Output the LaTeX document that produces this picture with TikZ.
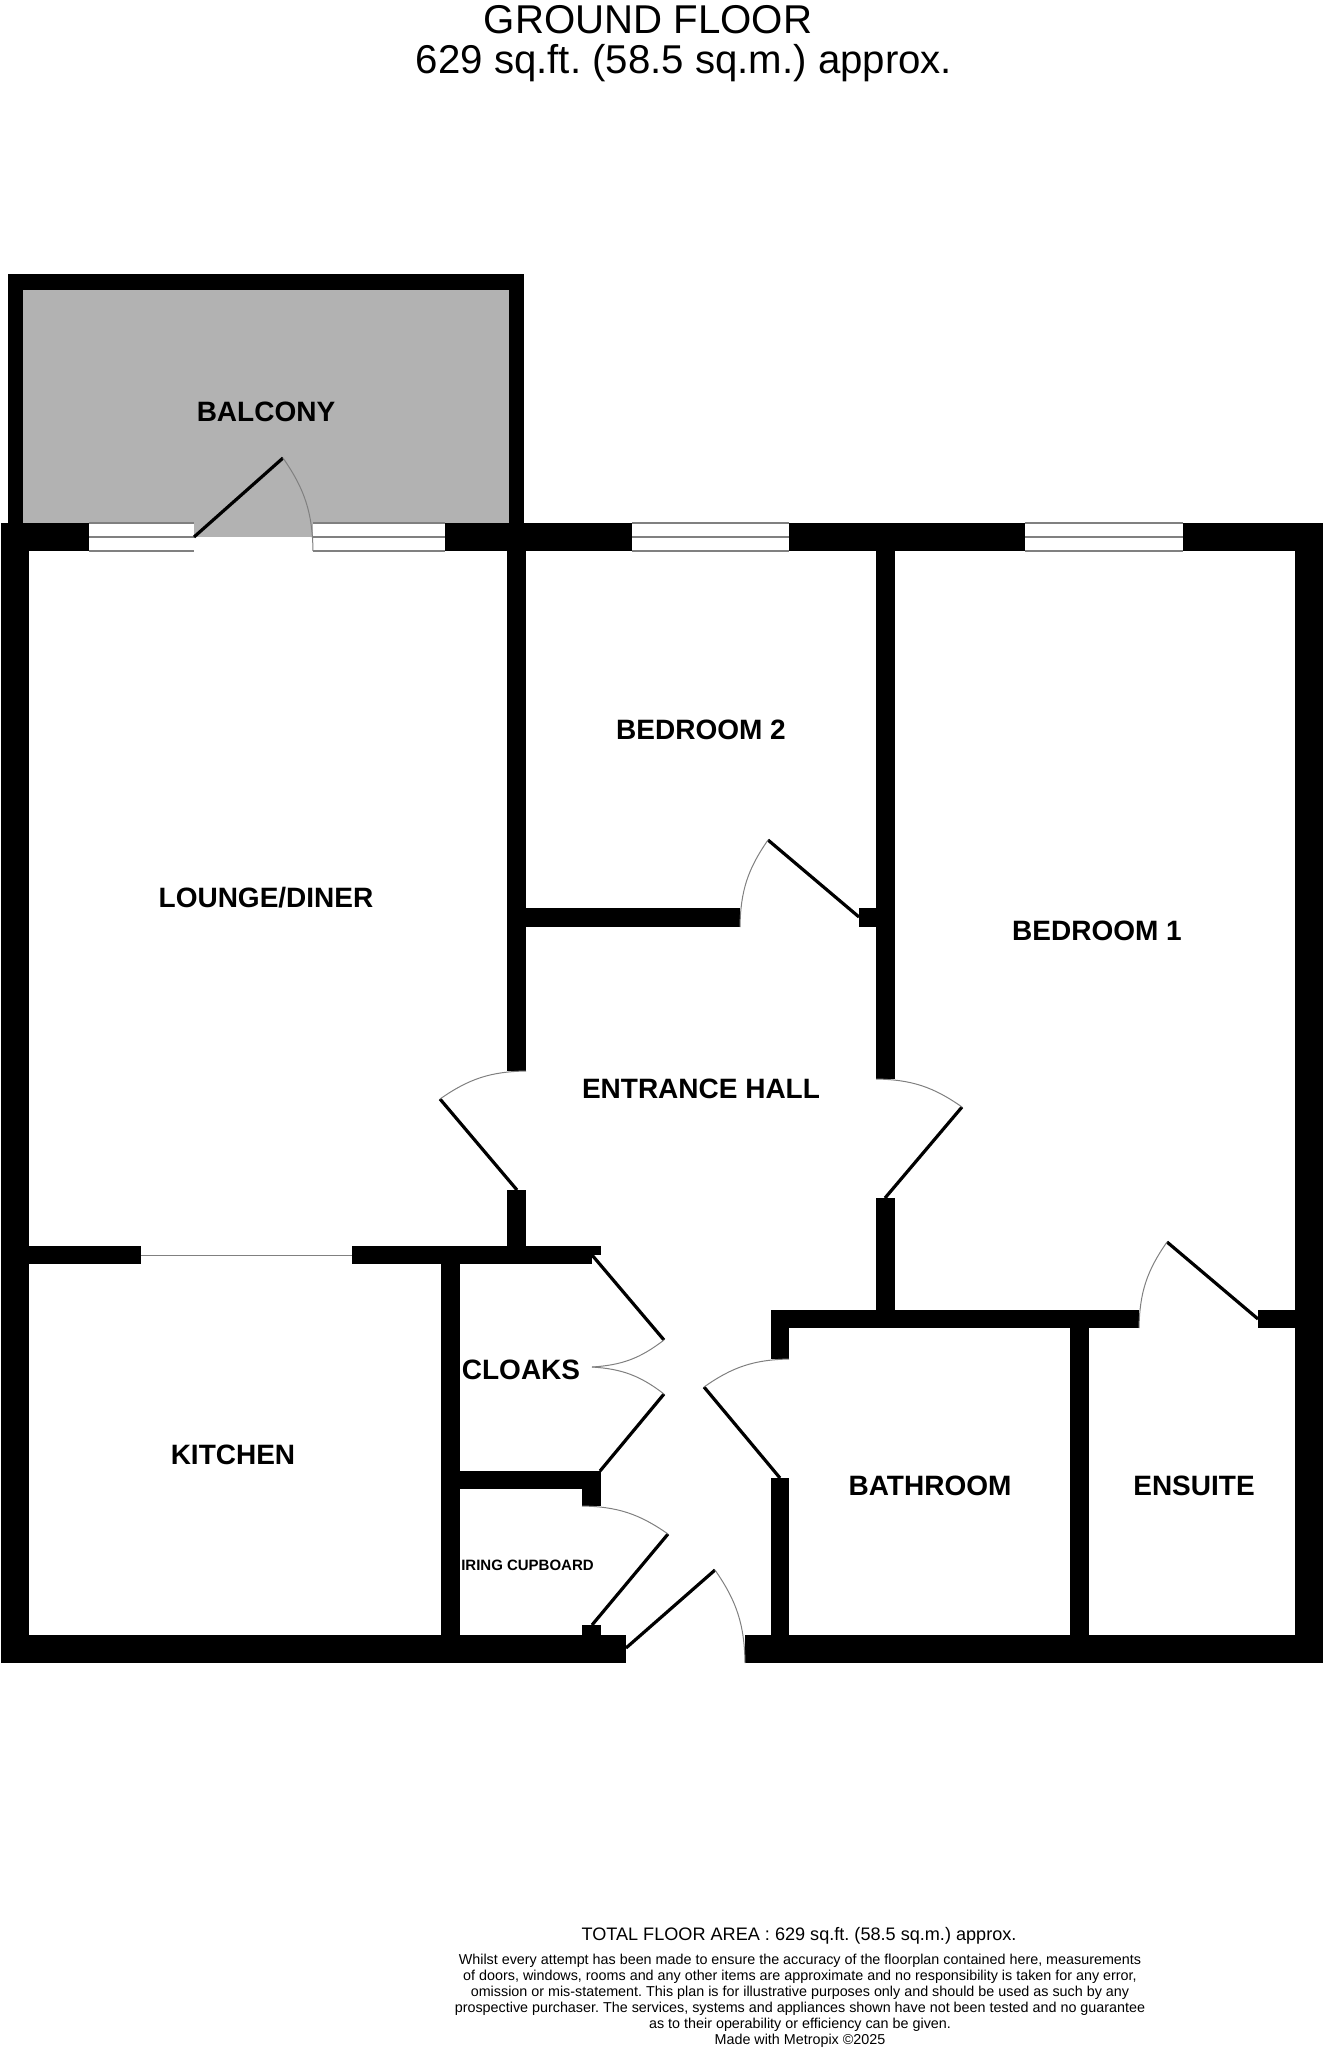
\documentclass[tikz,border=0pt]{standalone}
\usepackage{fontspec}
\setmainfont{Liberation Sans}
\tikzset{
  wall/.style={fill=black},
  leaf/.style={black,line width=1.6pt},
  swing/.style={gray,line width=0.5pt},
  pane/.style={gray,line width=1pt},
  roomname/.style={font=\fontsize{14}{16}\selectfont\bfseries,inner sep=0pt},
  heading/.style={font=\fontsize{20.1}{20}\selectfont,inner sep=0pt,anchor=base},
}
\definecolor{decking}{RGB}{178,178,178}
\begin{document}
\frenchspacing
\begin{tikzpicture}[x=0.5pt,y=-0.5pt]
\useasboundingbox (0,0) rectangle (1326,2048);
\fill[decking] (23,290) rectangle (509,537);   % balcony
% walls
\foreach \xa/\ya/\xb/\yb in {8/274/524/290,8/290/23/523,509/290/524/523,
  1/523/89/551,445/523/632/551,789/523/1025/551,1183/523/1323/551,
  1/551/29/1663,1295/551/1323/1663,1/1635/626/1663,745/1635/1323/1663,
  507/551/526/1071,507/1190/526/1246,876/551/895/1079,876/1198/895/1310,
  526/908/740/927,859/908/876/927,
  29/1246/141/1264,352/1246/592/1264,592/1246/601/1255,
  441/1264/460/1635,460/1471/601/1489,582/1489/601/1506,582/1625/601/1635,
  771/1310/1139/1328,1258/1310/1295/1328,771/1328/789/1359,771/1478/789/1635,
  1070/1328/1089/1635}
  { \fill[wall] (\xa,\ya) rectangle (\xb,\yb); }
% windows
\foreach \xa/\xb in {89/194,313/445,632/789,1025/1183}
  {
    \fill[white] (\xa,523) rectangle (\xb,551);
    \foreach \y in {523,537,551} { \draw[pane] (\xa,\y) -- (\xb,\y); }
  }
\draw[swing] (141,1255) -- (352,1255);   % kitchen opening
% doors: hinge, tip, end of swing, bend
\foreach \hx/\hy/\tx/\ty/\ex/\ey/\b in {194/537/283/458/313/551/17,
  859/917/768/840/740/927/-17,
  517/1190/440/1099/526/1071/17,
  885/1198/962/1107/876/1079/-17,
  592/1255/664/1340/592/1367/17,
  600/1471/664/1394/592/1367/-17,
  592/1625/668/1534/582/1506/-17,
  626/1648/715/1570/745/1663/17,
  780/1478/704/1387/789/1359/17,
  1258/1319/1167/1242/1139/1328/-17}
  {
    \draw[leaf] (\hx,\hy) -- (\tx,\ty);
    \draw[swing] (\tx,\ty) to[bend left=\b] (\ex,\ey);
  }
% rooms
\node[roomname] (balcony) at (266,412) {BALCONY};
\node[roomname] (lounge) at (266,898) {LOUNGE/DINER};
\node[roomname] (bedtwo) at (701,730) {BEDROOM 2};
\node[roomname] (bedone) at (1097,931) {BEDROOM 1};
\node[roomname] (hall) at (701,1089) {ENTRANCE HALL};
\node[roomname] (kitchen) at (233,1455) {KITCHEN};
\node[roomname] (cloaks) at (521,1370) {CLOAKS};
\node[roomname] (bath) at (930,1486) {BATHROOM};
\node[roomname] (ensuite) at (1194,1486) {ENSUITE};
\node[roomname,font=\fontsize{7.5}{9}\selectfont\bfseries] (cupboard) at (527.5,1565) {IRING CUPBOARD};
% captions
\node[heading] (floor) at (648,34) {GROUND FLOOR};
\node[heading] (area) at (684,74) {629 sq.ft. (58.5 sq.m.) approx.};
\node[inner sep=0pt,font=\fontsize{9.05}{10}\selectfont] (total) at (799,1936) {TOTAL FLOOR AREA : 629 sq.ft. (58.5 sq.m.) approx.};
\node[inner sep=0pt,align=center,anchor=north,font=\fontsize{7.17}{8}\selectfont] (notice) at (800,1954)
  {Whilst every attempt has been made to ensure the accuracy of the floorplan contained here, measurements\\
   of doors, windows, rooms and any other items are approximate and no responsibility is taken for any error,\\
   omission or mis-statement. This plan is for illustrative purposes only and should be used as such by any\\
   prospective purchaser. The services, systems and appliances shown have not been tested and no guarantee\\
   as to their operability or efficiency can be given.\\
   Made with Metropix \textcopyright2025};
\end{tikzpicture}
\end{document}
